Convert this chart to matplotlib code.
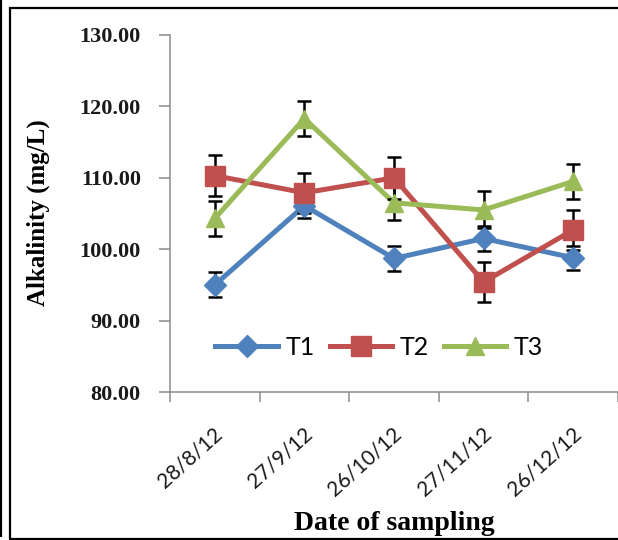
import matplotlib
matplotlib.use('Agg')
import matplotlib.pyplot as plt
from matplotlib.lines import Line2D
from matplotlib.transforms import ScaledTranslation

# ---- data ----
dates = ['28/8/12', '27/9/12', '26/10/12', '27/11/12', '26/12/12']
series_names = ['T1', 'T2', 'T3']
t1 = [95.0, 106.1, 98.7, 101.5, 98.8]
t1_err = [1.75, 1.7, 1.8, 1.8, 1.7]
t2 = [110.3, 107.9, 110.0, 95.4, 102.7]
t2_err = [2.9, 2.8, 2.9, 2.8, 2.8]
t3 = [104.3, 118.3, 106.5, 105.5, 109.5]
t3_err = [2.4, 2.5, 2.4, 2.6, 2.5]
y_ticks = [80, 90, 100, 110, 120, 130]

colors = ['#4F81BD', '#C0504D', '#9BBB59']
markers = ['D', 's', '^']
msizes = [11, 14, 13]
values = [t1, t2, t3]
errors = [t1_err, t2_err, t3_err]

W, H = 618, 540
fig = plt.figure(figsize=(W / 100, H / 100), dpi=100)
ax = fig.add_axes([170 / W, 1 - 392 / H, 448 / W, 357 / H])

x = list(range(len(dates)))
for i, (vals, errs) in enumerate(zip(values, errors)):
    ax.plot(x, vals, color=colors[i], lw=3.6, zorder=2 + i * 0.1,
            solid_capstyle='round', solid_joinstyle='round')
for i, (vals, errs) in enumerate(zip(values, errors)):
    ax.errorbar(x, vals, yerr=errs, fmt='none', ecolor='black', elinewidth=1.8,
                capsize=4.7, capthick=1.8, zorder=3)
for i, vals in enumerate(values):
    ax.plot(x, vals, linestyle='none', marker=markers[i], ms=msizes[i],
            mfc=colors[i], mec=colors[i], zorder=4 + i * 0.1)

ax.set_xlim(-0.5, len(dates) - 0.5)
ax.set_ylim(80, 130)

gray = '#8c8c8c'
for s in ['top', 'right']:
    ax.spines[s].set_visible(False)
for s in ['left', 'bottom']:
    ax.spines[s].set_color(gray)
    ax.spines[s].set_linewidth(1.1)

ax.set_xticks([i - 0.5 for i in range(len(dates) + 1)])
ax.set_xticklabels([])
ax.set_xticks(x, minor=True)
ax.tick_params(axis='x', which='major', length=7, width=1.1, color=gray, direction='out')
ax.tick_params(axis='x', which='minor', length=0, pad=28)
xlabels = ax.set_xticklabels(dates, minor=True, rotation=42, ha='right', va='center',
                             rotation_mode='anchor', fontsize=15, family='Lato',
                             color='#1a1a1a')
off = ScaledTranslation(5 / 100, 0, fig.dpi_scale_trans)
for lab in xlabels:
    lab.set_transform(lab.get_transform() + off)

ax.set_yticks(y_ticks)
ax.set_yticklabels(['%.2f' % v for v in y_ticks], fontsize=16, family='Liberation Serif',
                   fontweight='bold', color='#1a1a1a')
ax.tick_params(axis='y', length=8, width=1.1, color=gray, direction='out', pad=13)

fig.text(38 / W, 1 - 213 / H, 'Alkalinity (mg/L)', rotation=90, ha='center', va='center',
         fontsize=18, fontweight='bold', family='Liberation Serif')
fig.text(394 / W, 1 - 524 / H, 'Date of sampling', ha='center', va='center',
         fontsize=20, fontweight='bold', family='Liberation Serif')

handles = [Line2D([], [], color=colors[i], lw=3.6, marker=markers[i], ms=msizes[i],
                  mfc=colors[i], mec=colors[i]) for i in range(3)]
ax.legend(handles, series_names, loc='center', bbox_to_anchor=(0.467, 0.126), ncol=3,
          frameon=False, prop={'family': 'Lato', 'size': 18}, handlelength=2.5,
          handletextpad=0.3, columnspacing=0.6, borderaxespad=0, borderpad=0)

# figure border lines
def fl(xs, ys, lw=1.6):
    fig.add_artist(Line2D([v / W for v in xs], [1 - v / H for v in ys], color='black',
                          lw=lw, transform=fig.transFigure, solid_capstyle='butt'))

fl([1, 1], [0, 537])
fl([10, 10], [7, 539])
fl([9, 618], [8, 8])
fl([9, 618], [538.5, 538.5])

fig.savefig('out.png', dpi=100)
